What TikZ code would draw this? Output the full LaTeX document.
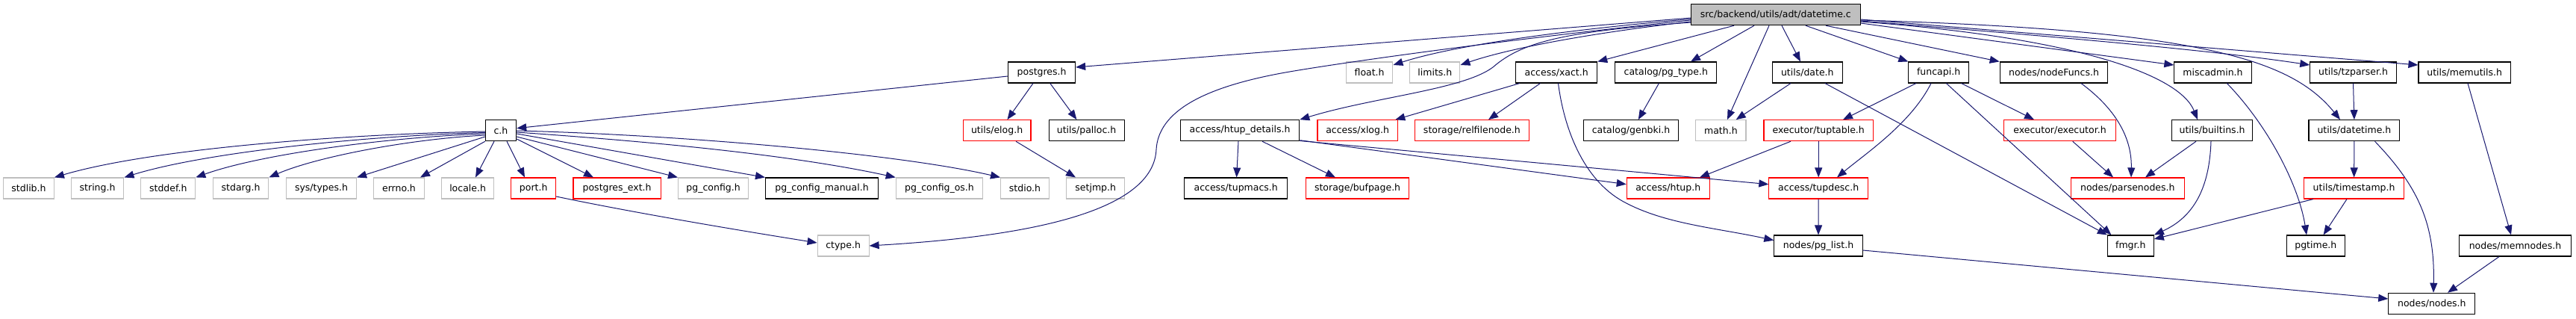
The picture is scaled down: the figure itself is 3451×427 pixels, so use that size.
\documentclass[tikz,border=0pt]{standalone}
\usepackage{fontspec}
\setmainfont{DejaVu Sans}
\usetikzlibrary{arrows.meta}
\definecolor{edgeblue}{HTML}{191970}
\definecolor{lightgr}{HTML}{BFBFBF}
\definecolor{rootgray}{HTML}{BFBFBF}
\newcommand\nfont{\fontsize{12.5}{15}\selectfont}
\tikzset{
  nb/.style={draw=black, line width=1.1pt, minimum height=28pt, inner xsep=2pt, inner ysep=0pt, font=\nfont, fill=white},
  ng/.style={nb, draw=lightgr},
  nr/.style={nb, draw=red},
  nroot/.style={nb, fill=rootgray},
  dep/.style={draw=edgeblue, line width=1pt, -{Triangle[length=13pt,width=10pt]}}
}
\begin{document}
\begin{tikzpicture}[x=1pt,y=-1pt]
\useasboundingbox[fill=white] (0,0) rectangle (3451,427);
% row 0
\node[nroot, minimum width=226.8pt] (root) at (2378.8,19.7) {src/backend/utils/adt/datetime.c};
% row 1
\node[nb, minimum width=90pt] (postgres) at (1395.6,97) {postgres.h};
\node[ng, minimum width=62.6pt] (float) at (1834.6,97) {float.h};
\node[ng, minimum width=67pt] (limits) at (1922.4,97) {limits.h};
\node[nb, minimum width=109pt] (xact) at (2085.2,97) {access/xact.h};
\node[nb, minimum width=136pt] (pgtype) at (2231.8,97) {catalog/pg\_type.h};
\node[nb, minimum width=93.6pt] (date) at (2421.3,97) {utils/date.h};
\node[nb, minimum width=80.4pt] (funcapi) at (2597.1,97) {funcapi.h};
\node[nb, minimum width=144.6pt] (nodefuncs) at (2751.5,97) {nodes/nodeFuncs.h};
\node[nb, minimum width=103.3pt] (miscadmin) at (2964.5,97) {miscadmin.h};
\node[nb, minimum width=115.4pt] (tzparser) at (3152.5,97) {utils/tzparser.h};
\node[nb, minimum width=123.4pt] (memutils) at (3301.7,97) {utils/memutils.h};
% row 2
\node[nb, minimum width=41.3pt] (ch) at (671,174.7) {c.h};
\node[nr, minimum width=90.7pt] (elog) at (1335.6,174.7) {utils/elog.h};
\node[nb, minimum width=101pt] (palloc) at (1455.6,174.7) {utils/palloc.h};
\node[nb, minimum width=159.5pt] (htupd) at (1661,174.7) {access/htup\_details.h};
\node[nr, minimum width=107.3pt] (xlog) at (1818.6,174.7) {access/xlog.h};
\node[nr, minimum width=153.3pt] (relfile) at (1971.9,174.7) {storage/relfilenode.h};
\node[nb, minimum width=126.3pt] (genbki) at (2185,174.7) {catalog/genbki.h};
\node[ng, minimum width=67.1pt] (math) at (2305.4,174.7) {math.h};
\node[nr, minimum width=146.4pt] (tuptable) at (2436.2,174.7) {executor/tuptable.h};
\node[nr, minimum width=149.3pt] (executor) at (2759.5,174.7) {executor/executor.h};
\node[nb, minimum width=108.5pt] (builtins) at (2963.6,174.7) {utils/builtins.h};
\node[nb, minimum width=121.8pt] (udatetime) at (3153.9,174.7) {utils/datetime.h};
% row 3
\node[ng, minimum width=67.7pt] (stdlib) at (38.5,252) {stdlib.h};
\node[ng, minimum width=70.6pt] (string) at (130.6,252) {string.h};
\node[ng, minimum width=72.9pt] (stddef) at (225.3,252) {stddef.h};
\node[ng, minimum width=74.6pt] (stdarg) at (322.6,252) {stdarg.h};
\node[ng, minimum width=94.1pt] (systypes) at (430.5,252) {sys/types.h};
\node[ng, minimum width=67.7pt] (errno) at (534.5,252) {errno.h};
\node[ng, minimum width=70.6pt] (locale) at (626.6,252) {locale.h};
\node[nr, minimum width=59.7pt] (port) at (714.7,252) {port.h};
\node[nr, minimum width=117.2pt] (pgext) at (826.6,252) {postgres\_ext.h};
\node[ng, minimum width=94.1pt] (pgconfig) at (955.6,252) {pg\_config.h};
\node[nb, minimum width=150.9pt] (pgcman) at (1101,252) {pg\_config\_manual.h};
\node[ng, minimum width=116.5pt] (pgcos) at (1258.5,252) {pg\_config\_os.h};
\node[ng, minimum width=64.9pt] (stdio) at (1373,252) {stdio.h};
\node[ng, minimum width=78pt] (setjmp) at (1467.7,252) {setjmp.h};
\node[nb, minimum width=138.4pt] (tupmacs) at (1655.7,252) {access/tupmacs.h};
\node[nr, minimum width=138.3pt] (bufpage) at (1818.6,252) {storage/bufpage.h};
\node[nr, minimum width=110.8pt] (htup) at (2234.7,252) {access/htup.h};
\node[nr, minimum width=132.6pt] (tupdesc) at (2436.2,252) {access/tupdesc.h};
\node[nr, minimum width=151.5pt] (parsenodes) at (2850.3,252) {nodes/parsenodes.h};
\node[nr, minimum width=133.8pt] (timestamp) at (3153.6,252) {utils/timestamp.h};
% row 4
\node[ng, minimum width=68.9pt] (ctype) at (1129.6,329) {ctype.h};
\node[nb, minimum width=118.3pt] (pglist) at (2436,329) {nodes/pg\_list.h};
\node[nb, minimum width=61.9pt] (fmgr) at (2854.3,329) {fmgr.h};
\node[nb, minimum width=78.1pt] (pgtime) at (3102.3,329) {pgtime.h};
\node[nb, minimum width=149.8pt] (memnodes) at (3369.5,329) {nodes/memnodes.h};
% row 5
\node[nb, minimum width=116pt] (nodes) at (3257.8,406.3) {nodes/nodes.h};

% edges from root
\draw[dep] (root.west |- 0,24) -- (postgres.east |- 0,90);
\draw[dep] (root.west |- 0,27) .. controls (2000,55) and (1790,85) .. (1722,97) .. controls (1610,117) and (1552,150) .. (1549,200) .. controls (1545,290) and (1350,318) .. (ctype.east);
\draw[dep] (root.west |- 0,25.5) .. controls (2100,40) and (1950,60) .. (float.east |- 0,87);
\draw[dep] (root.west |- 0,29) .. controls (2150,42) and (2030,62) .. (limits.east |- 0,87);
\draw[dep] (root.west |- 0,30) .. controls (2100,42) and (2040,55) .. (2000,90) .. controls (1960,120) and (1840,130) .. (htupd.north east);
\draw[dep] (root.south -| 2323,0) -- (xact.north east);
\draw[dep] (root.south -| 2350,0) -- (pgtype.north -| 2265,0);
\draw[dep] (root.south -| 2370,0) -- (math.north -| 2314,0);
\draw[dep] (root.south -| 2387,0) -- (date.north -| 2412,0);
\draw[dep] (root.south -| 2419,0) -- (funcapi.north west);
\draw[dep] (root.south -| 2446,0) -- (nodefuncs.north west);
\draw[dep] (root.east |- 0,31) -- (miscadmin.west |- 0,87);
\draw[dep] (root.east |- 0,29) .. controls (2780,50) and (2920,100) .. (builtins.north -| 2944,0);
\draw[dep] (root.east |- 0,28) .. controls (2700,45) and (2950,65) .. (tzparser.west |- 0,87);
\draw[dep] (root.east |- 0,27) .. controls (2950,40) and (3070,80) .. (udatetime.north -| 3135,0);
\draw[dep] (root.east |- 0,26) -- (memutils.west |- 0,87);
% postgres
\draw[dep] (postgres.west |- 0,102) -- (ch.east |- 0,171.7);
\draw[dep] (postgres.south -| 1384,0) -- (elog.north -| 1349.4,0);
\draw[dep] (postgres.south -| 1406.8,0) -- (palloc.north -| 1442.4,0);
\draw[dep] (elog.south -| 1361,0) -- (setjmp.north -| 1441,0);
% c.h
\draw[dep] (ch.west |- 0,176) .. controls (450,180) and (200,200) .. (stdlib.north east);
\draw[dep] (ch.west |- 0,177.5) .. controls (480,182) and (271,205) .. (string.north east);
\draw[dep] (ch.west |- 0,179) .. controls (514,184) and (347,207) .. (stddef.north east);
\draw[dep] (ch.west |- 0,181) .. controls (549,186) and (424,210) .. (stdarg.north east);
\draw[dep] (ch.west |- 0,183) -- (systypes.north east);
\draw[dep] (ch.south west) -- (errno.north -| 563,0);
\draw[dep] (ch.south -| 662,0) -- (locale.north -| 637,0);
\draw[dep] (ch.south -| 679,0) -- (port.north -| 703,0);
\draw[dep] (ch.east |- 0,186) -- (pgext.north -| 795,0);
\draw[dep] (ch.east |- 0,183) -- (pgconfig.north west);
\draw[dep] (ch.east |- 0,179) -- (pgcman.north west);
\draw[dep] (ch.east |- 0,177) .. controls (850,188) and (1050,205) .. (pgcos.north west);
\draw[dep] (ch.east |- 0,175) .. controls (900,180) and (1200,205) .. (stdio.north west);
\draw[dep] (port.east |- 0,263) .. controls (850,285) and (1000,310) .. (ctype.west |- 0,325);
% htup_details
\draw[dep] (htupd.south -| 1659,0) -- (tupmacs.north -| 1656.6,0);
\draw[dep] (htupd.south -| 1691,0) -- (bufpage.north -| 1789,0);
\draw[dep] (htupd.east |- 0,187.7) -- (htup.west |- 0,246.7);
\draw[dep] (htupd.east |- 0,188.5) -- (tupdesc.west |- 0,246.7);
% xact
\draw[dep] (xact.south -| 2035.8,0) -- (xlog.north -| 1869.3,0);
\draw[dep] (xact.south -| 2063.4,0) -- (relfile.north -| 1994,0);
\draw[dep] (xact.south -| 2087.5,0) .. controls (2095,170) and (2120,240) .. (2175,270) .. controls (2230,300) and (2300,305) .. (pglist.west |- 0,321.7);
\draw[dep] (pgtype.south -| 2222.4,0) -- (genbki.north -| 2194.8,0);
% date
\draw[dep] (date.south -| 2399,0) -- (math.north -| 2325.7,0);
\draw[dep] (date.south -| 2445,0) -- (fmgr.north west);
% funcapi
\draw[dep] (funcapi.south -| 2567,0) -- (tuptable.north -| 2469,0);
\draw[dep] (funcapi.south -| 2587,0) .. controls (2560,165) and (2500,205) .. (tupdesc.north -| 2461,0);
\draw[dep] (funcapi.south -| 2607.4,0) -- (fmgr.north -| 2828.4,0);
\draw[dep] (funcapi.south -| 2627.5,0) -- (executor.north -| 2725,0);
% tuptable, tupdesc, pg_list
\draw[dep] (tuptable.south -| 2399,0) -- (htup.north -| 2277,0);
\draw[dep] (tuptable.south) -- (tupdesc.north);
\draw[dep] (tupdesc.south) -- (pglist.north);
\draw[dep] (pglist.east |- 0,335) -- (nodes.west |- 0,400);
% parsenodes
\draw[dep] (nodefuncs.south -| 2788,0) .. controls (2840,150) and (2856,190) .. (parsenodes.north -| 2855,0);
\draw[dep] (executor.south -| 2776.7,0) -- (parsenodes.north -| 2831,0);
\draw[dep] (builtins.south -| 2942,0) -- (parsenodes.north -| 2874,0);
\draw[dep] (builtins.south -| 2962,0) .. controls (2960,250) and (2940,290) .. (fmgr.north east);
% miscadmin, datetime
\draw[dep] (miscadmin.south -| 2983.4,0) .. controls (3040,170) and (3080,250) .. (pgtime.north -| 3090,0);
\draw[dep] (tzparser.south) -- (udatetime.north);
\draw[dep] (udatetime.south) -- (timestamp.north);
\draw[dep] (udatetime.south -| 3181.5,0) .. controls (3240,250) and (3262,300) .. (nodes.north -| 3260,0);
\draw[dep] (timestamp.south -| 3099,0) -- (fmgr.east |- 0,320);
\draw[dep] (timestamp.south -| 3144,0) -- (pgtime.north -| 3112.6,0);
% memutils
\draw[dep] (memutils.south -| 3306,0) -- (memnodes.north -| 3364,0);
\draw[dep] (memnodes.south -| 3348,0) -- (nodes.north -| 3279,0);
\end{tikzpicture}
\end{document}
